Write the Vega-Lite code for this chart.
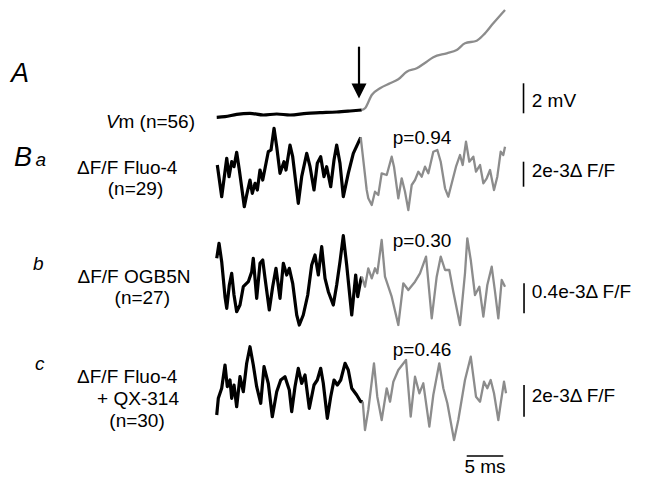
{
  "$schema": "https://vega.github.io/schema/vega-lite/v6.json",
  "width": 646,
  "height": 479,
  "padding": 0,
  "autosize": {"type": "none"},
  "config": {"view": {"stroke": null}, "text": {"font": "Liberation Sans"}},
  "datasets": {
    "vm": [
      {"phase":"pre","t":-19.90,"y":36.17},{"phase":"pre","t":-18.75,"y":36.23},{"phase":"pre","t":-17.13,"y":36.47},{"phase":"pre","t":-15.28,"y":36.57},{"phase":"pre","t":-13.43,"y":36.40},{"phase":"pre","t":-11.57,"y":36.50},{"phase":"pre","t":-9.72,"y":36.40},{"phase":"pre","t":-7.40,"y":36.57},{"phase":"pre","t":-5.56,"y":36.63},{"phase":"pre","t":-3.24,"y":36.70},{"phase":"pre","t":-1.39,"y":36.80},{"phase":"pre","t":0.24,"y":36.90},
      {"phase":"post","t":0.24,"y":36.90},{"phase":"post","t":0.69,"y":37.07},{"phase":"post","t":1.63,"y":38.40},{"phase":"post","t":2.78,"y":39.07},{"phase":"post","t":4.17,"y":39.57},{"phase":"post","t":5.32,"y":39.97},{"phase":"post","t":6.49,"y":40.73},{"phase":"post","t":7.88,"y":41.07},{"phase":"post","t":9.26,"y":41.73},{"phase":"post","t":10.18,"y":42.17},{"phase":"post","t":12.04,"y":42.57},{"phase":"post","t":13.43,"y":42.90},{"phase":"post","t":14.58,"y":43.57},{"phase":"post","t":16.21,"y":43.83},{"phase":"post","t":17.13,"y":44.40},{"phase":"post","t":18.51,"y":45.57},{"phase":"post","t":20.14,"y":46.90}
    ],
    "traces": [
      {"trace":"a","phase":"pre","t":-19.82,"y":31.40},{"trace":"a","phase":"pre","t":-19.21,"y":28.23},{"trace":"a","phase":"pre","t":-18.51,"y":32.07},{"trace":"a","phase":"pre","t":-18.19,"y":30.23},{"trace":"a","phase":"pre","t":-17.82,"y":31.73},{"trace":"a","phase":"pre","t":-17.50,"y":31.23},{"trace":"a","phase":"pre","t":-17.13,"y":32.67},{"trace":"a","phase":"pre","t":-16.76,"y":30.90},{"trace":"a","phase":"pre","t":-16.07,"y":27.23},{"trace":"a","phase":"pre","t":-15.74,"y":28.40},{"trace":"a","phase":"pre","t":-15.28,"y":29.90},{"trace":"a","phase":"pre","t":-14.96,"y":28.57},{"trace":"a","phase":"pre","t":-14.58,"y":29.57},{"trace":"a","phase":"pre","t":-14.26,"y":28.90},{"trace":"a","phase":"pre","t":-13.89,"y":30.90},{"trace":"a","phase":"pre","t":-13.51,"y":29.90},{"trace":"a","phase":"pre","t":-13.19,"y":31.07},{"trace":"a","phase":"pre","t":-12.74,"y":32.73},{"trace":"a","phase":"pre","t":-12.36,"y":32.90},{"trace":"a","phase":"pre","t":-11.94,"y":35.07},{"trace":"a","phase":"pre","t":-11.57,"y":33.23},{"trace":"a","phase":"pre","t":-11.11,"y":30.57},{"trace":"a","phase":"pre","t":-10.56,"y":31.73},{"trace":"a","phase":"pre","t":-10.28,"y":30.90},{"trace":"a","phase":"pre","t":-9.72,"y":33.40},{"trace":"a","phase":"pre","t":-9.35,"y":32.23},{"trace":"a","phase":"pre","t":-8.57,"y":27.57},{"trace":"a","phase":"pre","t":-8.10,"y":30.23},{"trace":"a","phase":"pre","t":-7.40,"y":32.57},{"trace":"a","phase":"pre","t":-6.94,"y":31.23},{"trace":"a","phase":"pre","t":-6.39,"y":28.90},{"trace":"a","phase":"pre","t":-5.93,"y":31.57},{"trace":"a","phase":"pre","t":-5.46,"y":32.23},{"trace":"a","phase":"pre","t":-5.00,"y":30.23},{"trace":"a","phase":"pre","t":-4.63,"y":31.23},{"trace":"a","phase":"pre","t":-4.07,"y":29.23},{"trace":"a","phase":"pre","t":-3.61,"y":31.90},{"trace":"a","phase":"pre","t":-3.24,"y":33.40},{"trace":"a","phase":"pre","t":-2.78,"y":31.57},{"trace":"a","phase":"pre","t":-2.32,"y":28.23},{"trace":"a","phase":"pre","t":-1.63,"y":30.57},{"trace":"a","phase":"pre","t":-0.93,"y":32.57},{"trace":"a","phase":"pre","t":0.10,"y":34.17},
      {"trace":"a","phase":"post","t":0.10,"y":34.17},{"trace":"a","phase":"post","t":0.93,"y":28.90},{"trace":"a","phase":"post","t":1.15,"y":28.07},{"trace":"a","phase":"post","t":1.63,"y":27.40},{"trace":"a","phase":"post","t":2.08,"y":28.73},{"trace":"a","phase":"post","t":2.54,"y":28.40},{"trace":"a","phase":"post","t":3.01,"y":30.57},{"trace":"a","phase":"post","t":3.71,"y":30.40},{"trace":"a","phase":"post","t":4.40,"y":32.23},{"trace":"a","phase":"post","t":4.72,"y":31.23},{"trace":"a","phase":"post","t":5.32,"y":28.07},{"trace":"a","phase":"post","t":5.79,"y":30.07},{"trace":"a","phase":"post","t":6.25,"y":28.73},{"trace":"a","phase":"post","t":6.71,"y":26.90},{"trace":"a","phase":"post","t":7.18,"y":29.40},{"trace":"a","phase":"post","t":7.64,"y":29.90},{"trace":"a","phase":"post","t":8.10,"y":30.73},{"trace":"a","phase":"post","t":8.57,"y":30.23},{"trace":"a","phase":"post","t":9.03,"y":31.23},{"trace":"a","phase":"post","t":9.49,"y":30.57},{"trace":"a","phase":"post","t":10.18,"y":32.73},{"trace":"a","phase":"post","t":10.74,"y":32.90},{"trace":"a","phase":"post","t":11.21,"y":31.73},{"trace":"a","phase":"post","t":11.81,"y":29.07},{"trace":"a","phase":"post","t":12.26,"y":28.23},{"trace":"a","phase":"post","t":12.74,"y":29.57},{"trace":"a","phase":"post","t":13.33,"y":31.23},{"trace":"a","phase":"post","t":13.89,"y":32.40},{"trace":"a","phase":"post","t":14.26,"y":31.40},{"trace":"a","phase":"post","t":14.72,"y":33.73},{"trace":"a","phase":"post","t":15.18,"y":31.73},{"trace":"a","phase":"post","t":15.74,"y":32.23},{"trace":"a","phase":"post","t":16.11,"y":30.73},{"trace":"a","phase":"post","t":16.67,"y":31.40},{"trace":"a","phase":"post","t":17.13,"y":29.57},{"trace":"a","phase":"post","t":17.60,"y":30.07},{"trace":"a","phase":"post","t":18.06,"y":30.90},{"trace":"a","phase":"post","t":18.61,"y":28.90},{"trace":"a","phase":"post","t":19.07,"y":30.23},{"trace":"a","phase":"post","t":19.54,"y":32.73},{"trace":"a","phase":"post","t":19.90,"y":32.40},{"trace":"a","phase":"post","t":20.14,"y":33.23},

      {"trace":"b","phase":"pre","t":-19.90,"y":22.07},{"trace":"b","phase":"pre","t":-19.58,"y":23.57},{"trace":"b","phase":"pre","t":-19.21,"y":21.73},{"trace":"b","phase":"pre","t":-18.75,"y":18.23},{"trace":"b","phase":"pre","t":-18.51,"y":17.07},{"trace":"b","phase":"pre","t":-18.15,"y":19.40},{"trace":"b","phase":"pre","t":-17.82,"y":20.57},{"trace":"b","phase":"pre","t":-17.50,"y":18.40},{"trace":"b","phase":"pre","t":-17.13,"y":16.73},{"trace":"b","phase":"pre","t":-16.67,"y":17.40},{"trace":"b","phase":"pre","t":-16.21,"y":19.23},{"trace":"b","phase":"pre","t":-15.51,"y":19.73},{"trace":"b","phase":"pre","t":-15.04,"y":20.73},{"trace":"b","phase":"pre","t":-14.82,"y":22.07},{"trace":"b","phase":"pre","t":-14.35,"y":18.07},{"trace":"b","phase":"pre","t":-13.89,"y":21.57},{"trace":"b","phase":"pre","t":-13.51,"y":21.90},{"trace":"b","phase":"pre","t":-13.19,"y":20.07},{"trace":"b","phase":"pre","t":-12.60,"y":16.90},{"trace":"b","phase":"pre","t":-12.13,"y":19.23},{"trace":"b","phase":"pre","t":-11.67,"y":21.07},{"trace":"b","phase":"pre","t":-11.11,"y":18.07},{"trace":"b","phase":"pre","t":-10.65,"y":21.57},{"trace":"b","phase":"pre","t":-10.18,"y":20.40},{"trace":"b","phase":"pre","t":-9.82,"y":21.07},{"trace":"b","phase":"pre","t":-9.35,"y":19.57},{"trace":"b","phase":"pre","t":-8.79,"y":16.40},{"trace":"b","phase":"pre","t":-8.43,"y":15.40},{"trace":"b","phase":"pre","t":-7.88,"y":16.40},{"trace":"b","phase":"pre","t":-7.26,"y":18.40},{"trace":"b","phase":"pre","t":-6.71,"y":21.40},{"trace":"b","phase":"pre","t":-6.25,"y":22.40},{"trace":"b","phase":"pre","t":-5.79,"y":20.40},{"trace":"b","phase":"pre","t":-5.32,"y":23.23},{"trace":"b","phase":"pre","t":-4.86,"y":20.07},{"trace":"b","phase":"pre","t":-4.40,"y":18.73},{"trace":"b","phase":"pre","t":-3.71,"y":17.40},{"trace":"b","phase":"pre","t":-3.24,"y":19.40},{"trace":"b","phase":"pre","t":-2.78,"y":21.73},{"trace":"b","phase":"pre","t":-2.32,"y":24.33},{"trace":"b","phase":"pre","t":-1.85,"y":21.40},{"trace":"b","phase":"pre","t":-1.15,"y":16.40},{"trace":"b","phase":"pre","t":-0.60,"y":20.40},{"trace":"b","phase":"pre","t":-0.32,"y":18.23},{"trace":"b","phase":"pre","t":0.10,"y":19.90},{"trace":"b","phase":"pre","t":0.24,"y":20.23},
      {"trace":"b","phase":"post","t":0.24,"y":20.23},{"trace":"b","phase":"post","t":0.69,"y":19.23},{"trace":"b","phase":"post","t":1.15,"y":21.07},{"trace":"b","phase":"post","t":1.63,"y":20.07},{"trace":"b","phase":"post","t":2.08,"y":21.07},{"trace":"b","phase":"post","t":2.40,"y":20.57},{"trace":"b","phase":"post","t":3.01,"y":23.90},{"trace":"b","phase":"post","t":3.47,"y":20.23},{"trace":"b","phase":"post","t":4.40,"y":18.23},{"trace":"b","phase":"post","t":5.32,"y":15.40},{"trace":"b","phase":"post","t":6.01,"y":19.57},{"trace":"b","phase":"post","t":6.71,"y":18.90},{"trace":"b","phase":"post","t":7.64,"y":19.73},{"trace":"b","phase":"post","t":8.33,"y":20.57},{"trace":"b","phase":"post","t":9.17,"y":22.23},{"trace":"b","phase":"post","t":9.96,"y":16.07},{"trace":"b","phase":"post","t":10.65,"y":20.23},{"trace":"b","phase":"post","t":11.21,"y":22.23},{"trace":"b","phase":"post","t":11.81,"y":20.90},{"trace":"b","phase":"post","t":12.40,"y":20.90},{"trace":"b","phase":"post","t":12.96,"y":18.73},{"trace":"b","phase":"post","t":13.89,"y":15.40},{"trace":"b","phase":"post","t":14.58,"y":20.57},{"trace":"b","phase":"post","t":14.90,"y":24.07},{"trace":"b","phase":"post","t":15.38,"y":21.90},{"trace":"b","phase":"post","t":15.97,"y":18.40},{"trace":"b","phase":"post","t":16.57,"y":19.23},{"trace":"b","phase":"post","t":17.13,"y":16.23},{"trace":"b","phase":"post","t":17.68,"y":19.40},{"trace":"b","phase":"post","t":18.29,"y":21.23},{"trace":"b","phase":"post","t":18.75,"y":18.73},{"trace":"b","phase":"post","t":19.21,"y":16.07},{"trace":"b","phase":"post","t":19.68,"y":19.90},{"trace":"b","phase":"post","t":20.14,"y":19.23},

      {"trace":"c","phase":"pre","t":-19.90,"y":6.40},{"trace":"c","phase":"pre","t":-19.68,"y":8.07},{"trace":"c","phase":"pre","t":-19.21,"y":9.07},{"trace":"c","phase":"pre","t":-18.75,"y":11.40},{"trace":"c","phase":"pre","t":-18.43,"y":9.23},{"trace":"c","phase":"pre","t":-18.06,"y":9.90},{"trace":"c","phase":"pre","t":-17.82,"y":8.07},{"trace":"c","phase":"pre","t":-17.50,"y":9.40},{"trace":"c","phase":"pre","t":-17.13,"y":7.23},{"trace":"c","phase":"pre","t":-16.67,"y":10.23},{"trace":"c","phase":"pre","t":-16.21,"y":8.73},{"trace":"c","phase":"pre","t":-15.74,"y":11.57},{"trace":"c","phase":"pre","t":-15.28,"y":13.23},{"trace":"c","phase":"pre","t":-14.82,"y":11.40},{"trace":"c","phase":"pre","t":-14.35,"y":9.23},{"trace":"c","phase":"pre","t":-13.79,"y":7.57},{"trace":"c","phase":"pre","t":-13.33,"y":11.23},{"trace":"c","phase":"pre","t":-12.74,"y":9.57},{"trace":"c","phase":"pre","t":-12.18,"y":6.23},{"trace":"c","phase":"pre","t":-11.57,"y":8.73},{"trace":"c","phase":"pre","t":-11.01,"y":9.90},{"trace":"c","phase":"pre","t":-10.42,"y":10.23},{"trace":"c","phase":"pre","t":-9.82,"y":8.90},{"trace":"c","phase":"pre","t":-9.49,"y":6.73},{"trace":"c","phase":"pre","t":-9.03,"y":9.23},{"trace":"c","phase":"pre","t":-8.57,"y":11.07},{"trace":"c","phase":"pre","t":-8.10,"y":9.57},{"trace":"c","phase":"pre","t":-7.64,"y":10.40},{"trace":"c","phase":"pre","t":-7.04,"y":7.07},{"trace":"c","phase":"pre","t":-6.39,"y":9.40},{"trace":"c","phase":"pre","t":-5.93,"y":9.90},{"trace":"c","phase":"pre","t":-5.46,"y":11.07},{"trace":"c","phase":"pre","t":-5.10,"y":9.57},{"trace":"c","phase":"pre","t":-4.54,"y":6.07},{"trace":"c","phase":"pre","t":-4.07,"y":8.23},{"trace":"c","phase":"pre","t":-3.61,"y":9.90},{"trace":"c","phase":"pre","t":-3.15,"y":9.40},{"trace":"c","phase":"pre","t":-2.68,"y":9.90},{"trace":"c","phase":"pre","t":-2.08,"y":11.57},{"trace":"c","phase":"pre","t":-1.63,"y":10.90},{"trace":"c","phase":"pre","t":-1.15,"y":9.07},{"trace":"c","phase":"pre","t":-0.46,"y":8.40},{"trace":"c","phase":"pre","t":0.10,"y":7.73},{"trace":"c","phase":"pre","t":0.38,"y":7.73},
      {"trace":"c","phase":"post","t":0.38,"y":7.73},{"trace":"c","phase":"post","t":0.69,"y":4.90},{"trace":"c","phase":"post","t":1.15,"y":6.90},{"trace":"c","phase":"post","t":1.94,"y":11.57},{"trace":"c","phase":"post","t":2.40,"y":8.23},{"trace":"c","phase":"post","t":3.01,"y":5.90},{"trace":"c","phase":"post","t":3.71,"y":9.07},{"trace":"c","phase":"post","t":4.17,"y":7.73},{"trace":"c","phase":"post","t":4.63,"y":9.73},{"trace":"c","phase":"post","t":5.32,"y":10.90},{"trace":"c","phase":"post","t":6.39,"y":11.90},{"trace":"c","phase":"post","t":7.04,"y":6.23},{"trace":"c","phase":"post","t":7.64,"y":10.23},{"trace":"c","phase":"post","t":8.24,"y":8.57},{"trace":"c","phase":"post","t":8.79,"y":9.57},{"trace":"c","phase":"post","t":9.63,"y":5.23},{"trace":"c","phase":"post","t":10.18,"y":8.40},{"trace":"c","phase":"post","t":11.01,"y":11.57},{"trace":"c","phase":"post","t":11.57,"y":9.07},{"trace":"c","phase":"post","t":12.13,"y":7.57},{"trace":"c","phase":"post","t":13.06,"y":3.90},{"trace":"c","phase":"post","t":13.65,"y":5.90},{"trace":"c","phase":"post","t":14.58,"y":9.90},{"trace":"c","phase":"post","t":15.38,"y":12.23},{"trace":"c","phase":"post","t":16.11,"y":8.23},{"trace":"c","phase":"post","t":16.67,"y":7.73},{"trace":"c","phase":"post","t":17.22,"y":9.73},{"trace":"c","phase":"post","t":17.68,"y":9.07},{"trace":"c","phase":"post","t":18.15,"y":9.90},{"trace":"c","phase":"post","t":18.61,"y":8.57},{"trace":"c","phase":"post","t":19.21,"y":5.90},{"trace":"c","phase":"post","t":19.54,"y":7.57},{"trace":"c","phase":"post","t":20.00,"y":9.73},{"trace":"c","phase":"post","t":20.28,"y":8.57}
    ],
    "vbars": [
      {"t":22.71,"y":39.57,"y2":36.57},
      {"t":22.71,"y":31.73,"y2":29.23},
      {"t":22.78,"y":19.57,"y2":16.57},
      {"t":22.78,"y":9.40,"y2":6.23}
    ],
    "hbar": [{"t":14.82,"t2":19.90,"y":2.30}],
    "arrow": [{"t":-0.14,"y":43.23,"y2":39.40}],
    "arrowhead": [{"t":-0.14,"y":38.80}],
    "bigItalic": [
      {"t":-48.47,"y":39.73,"label":"A"},
      {"t":-48.06,"y":31.30,"label":"B"}
    ],
    "smallItalic": [
      {"t":-45.07,"y":31.30,"label":"a"},
      {"t":-45.42,"y":20.90,"label":"b"},
      {"t":-45.14,"y":10.90,"label":"c"}
    ],
    "vmItalic": [{"t":-35.28,"y":35.10,"label":"V"}],
    "leftText": [
      {"t":-33.55,"y":35.10,"label":"m (n=56)"},
      {"t":4.55,"y":33.50,"label":"p=0.94"},
      {"t":4.55,"y":23.20,"label":"p=0.30"},
      {"t":4.55,"y":12.30,"label":"p=0.46"},
      {"t":23.85,"y":37.23,"label":"2 mV"},
      {"t":23.85,"y":30.23,"label":"2e-3Δ F/F"},
      {"t":23.85,"y":18.07,"label":"0.4e-3Δ F/F"},
      {"t":23.85,"y":7.73,"label":"2e-3Δ F/F"}
    ],
    "centerText": [
      {"t":-32.33,"y":30.55,"label":"ΔF/F Fluo-4"},
      {"t":-31.18,"y":28.40,"label":"(n=29)"},
      {"t":-31.40,"y":19.65,"label":"ΔF/F OGB5N"},
      {"t":-30.24,"y":17.50,"label":"(n=27)"},
      {"t":-32.33,"y":9.62,"label":"ΔF/F Fluo-4"},
      {"t":-30.83,"y":7.40,"label":"+ QX-314"},
      {"t":-30.97,"y":5.18,"label":"(n=30)"},
      {"t":17.36,"y":0.65,"label":"5 ms"}
    ]
  },
  "encoding": {
    "x": {"field": "t", "type": "quantitative", "scale": {"domain": [-50, 39.72], "nice": false, "zero": false}, "axis": null},
    "y": {"field": "y", "type": "quantitative", "scale": {"domain": [0, 47.9], "nice": false, "zero": false}, "axis": null}
  },
  "layer": [
    {
      "data": {"name": "traces"},
      "mark": {"type": "line", "strokeJoin": "round", "strokeCap": "butt"},
      "encoding": {
        "detail": {"field": "trace"},
        "color": {"field": "phase", "type": "nominal", "scale": {"domain": ["pre", "post"], "range": ["#000000", "#8c8c8c"]}, "legend": null},
        "strokeWidth": {"field": "phase", "type": "nominal", "scale": {"domain": ["pre", "post"], "range": [3.2, 2.3]}, "legend": null}
      }
    },
    {
      "data": {"name": "vm"},
      "mark": {"type": "line", "strokeJoin": "round", "strokeCap": "butt", "interpolate": "monotone"},
      "encoding": {
        "color": {"field": "phase", "type": "nominal", "scale": {"domain": ["pre", "post"], "range": ["#000000", "#8c8c8c"]}, "legend": null},
        "strokeWidth": {"field": "phase", "type": "nominal", "scale": {"domain": ["pre", "post"], "range": [2.0, 1.4]}, "legend": null}
      }
    },
    {
      "data": {"name": "vbars"},
      "mark": {"type": "rule", "color": "#000000", "strokeWidth": 1.6},
      "encoding": {"y2": {"field": "y2"}}
    },
    {
      "data": {"name": "hbar"},
      "mark": {"type": "rule", "color": "#000000", "strokeWidth": 1.6},
      "encoding": {"x2": {"field": "t2"}}
    },
    {
      "data": {"name": "arrow"},
      "mark": {"type": "rule", "color": "#000000", "strokeWidth": 2.2},
      "encoding": {"y2": {"field": "y2"}}
    },
    {
      "data": {"name": "arrowhead"},
      "mark": {"type": "point", "shape": "M-1,-1L1,-1L0,1Z", "filled": true, "color": "#000000", "opacity": 1, "size": 225}
    },
    {
      "data": {"name": "bigItalic"},
      "mark": {"type": "text", "align": "left", "baseline": "alphabetic", "fontStyle": "italic", "fontSize": 27, "color": "#000000"},
      "encoding": {"text": {"field": "label"}}
    },
    {
      "data": {"name": "smallItalic"},
      "mark": {"type": "text", "align": "left", "baseline": "alphabetic", "fontStyle": "italic", "fontSize": 19, "color": "#000000"},
      "encoding": {"text": {"field": "label"}}
    },
    {
      "data": {"name": "vmItalic"},
      "mark": {"type": "text", "align": "left", "baseline": "alphabetic", "fontStyle": "italic", "fontSize": 19, "color": "#000000"},
      "encoding": {"text": {"field": "label"}}
    },
    {
      "data": {"name": "leftText"},
      "mark": {"type": "text", "align": "left", "baseline": "alphabetic", "fontSize": 19, "color": "#000000"},
      "encoding": {"text": {"field": "label"}}
    },
    {
      "data": {"name": "centerText"},
      "mark": {"type": "text", "align": "center", "baseline": "alphabetic", "fontSize": 19, "color": "#000000"},
      "encoding": {"text": {"field": "label"}}
    }
  ]
}
